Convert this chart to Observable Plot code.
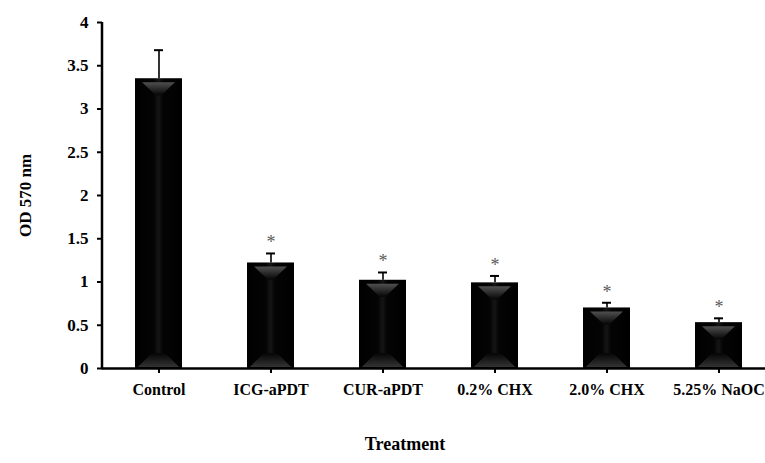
<!DOCTYPE html>
<html><head><meta charset="utf-8">
<script src="https://cdn.jsdelivr.net/npm/d3@7"></script>
<script src="https://cdn.jsdelivr.net/npm/@observablehq/plot@0.6"></script>
<style>
html,body{margin:0;padding:0;overflow:hidden;background:#fff}
#chart g[aria-label^="y-axis"] path, #chart g[aria-label^="y-axis"] line,
#chart g[aria-label^="x-axis"] path, #chart g[aria-label^="x-axis"] line {stroke-width:2}
#chart g[aria-label^="y-axis"] text {font-size:17px}
</style></head><body><div id="chart"></div>
<script>
const categories = ["Control", "ICG-aPDT", "CUR-aPDT", "0.2% CHX", "2.0% CHX", "5.25% NaOC"];
const values = [3.35, 1.22, 1.02, 0.99, 0.70, 0.53];
const errors = [0.33, 0.11, 0.09, 0.08, 0.06, 0.05];
const significant = [false, true, true, true, true, true];
const yTicks = [0, 0.5, 1, 1.5, 2, 2.5, 3, 3.5, 4];
const yLabel = "OD 570 nm";
const xLabel = "Treatment";

const data = categories.map((c, i) => ({c, v: values[i], e: errors[i], top: values[i] + errors[i], sig: significant[i]}));

const plot = Plot.plot({
  width: 765, height: 463,
  marginLeft: 102, marginRight: -10, marginTop: 22, marginBottom: 95,
  style: {fontFamily: "'Liberation Serif','Times New Roman',serif", fontSize: "16px", fontWeight: "bold", color: "#000", background: "#fff", display: "block", overflow: "visible"},
  x: {domain: categories, paddingInner: 0.58, paddingOuter: 0.29, label: null, tickSize: 5, tickPadding: 10},
  y: {domain: [0, 4], ticks: yTicks, tickFormat: d => String(d), label: null, tickSize: 5, tickPadding: 9},
  marks: [
    Plot.barY(data, {x: "c", y: "v", fill: "url(#barGrad)"}),
    Plot.ruleX(data, {x: "c", y1: "v", y2: "top", stroke: "#000", strokeWidth: 1.6}),
    Plot.tickY(data, {x: "c", y: "top", stroke: "#000", strokeWidth: 2, insetLeft: 19, insetRight: 19}),
    Plot.text(data.filter(d => d.sig), {x: "c", y: "top", text: () => "*", dy: -5, lineAnchor: "bottom", fill: "#5a5a5a", fontWeight: "normal", fontSize: 18}),
    Plot.ruleY([0], {stroke: "#000", strokeWidth: 2.5}),
    Plot.text([yLabel], {frameAnchor: "left", textAnchor: "middle", lineAnchor: "middle", rotate: -90, dx: -77, fontSize: 17}),
    Plot.text([xLabel], {frameAnchor: "bottom", textAnchor: "middle", lineAnchor: "middle", dx: -34, dy: 76, fontSize: 18})
  ]
});
document.getElementById("chart").appendChild(plot);

const svg = d3.select(plot.tagName.toLowerCase() === "svg" ? plot : plot.querySelector("svg"));
const defs = svg.insert("defs", ":first-child");
const hg = defs.append("linearGradient").attr("id", "barGrad").attr("x1", 0).attr("x2", 1).attr("y1", 0).attr("y2", 0);
[[0, "#000"], [0.4, "#040404"], [0.5, "#151515"], [0.6, "#040404"], [1, "#000"]].forEach(([o, c]) => hg.append("stop").attr("offset", o).attr("stop-color", c));
const tg = defs.append("linearGradient").attr("id", "topGrad").attr("x1", 0).attr("x2", 0).attr("y1", 0).attr("y2", 1);
[[0, "#505050"], [1, "#050505"]].forEach(([o, c]) => tg.append("stop").attr("offset", o).attr("stop-color", c));
const bg = defs.append("linearGradient").attr("id", "botGrad").attr("x1", 0).attr("x2", 0).attr("y1", 0).attr("y2", 1);
[[0, "#050505"], [1, "#333"]].forEach(([o, c]) => bg.append("stop").attr("offset", o).attr("stop-color", c));

svg.selectAll('g[aria-label="bar"] rect').each(function () {
  const r = d3.select(this);
  const x = +r.attr("x"), y = +r.attr("y"), w = +r.attr("width"), h = +r.attr("height");
  const g = d3.select(this.parentNode);
  g.append("polygon").attr("fill", "url(#topGrad)")
    .attr("points", [[x + 0.15 * w, y + 4], [x + 0.85 * w, y + 4], [x + 0.56 * w, y + 17], [x + 0.44 * w, y + 17]].map(p => p.join(",")).join(" "));
  g.append("polygon").attr("fill", "url(#botGrad)")
    .attr("points", [[x + 0.36 * w, y + h - 15], [x + 0.64 * w, y + h - 15], [x + 0.94 * w, y + h - 1], [x + 0.06 * w, y + h - 1]].map(p => p.join(",")).join(" "));
});

const xs = plot.scale("x"), ys = plot.scale("y");
svg.append("line").attr("x1", xs.range[0]).attr("x2", xs.range[0])
  .attr("y1", ys.range[0] + 1.25).attr("y2", ys.range[1])
  .attr("stroke", "#000").attr("stroke-width", 2.5);
</script></body></html>
